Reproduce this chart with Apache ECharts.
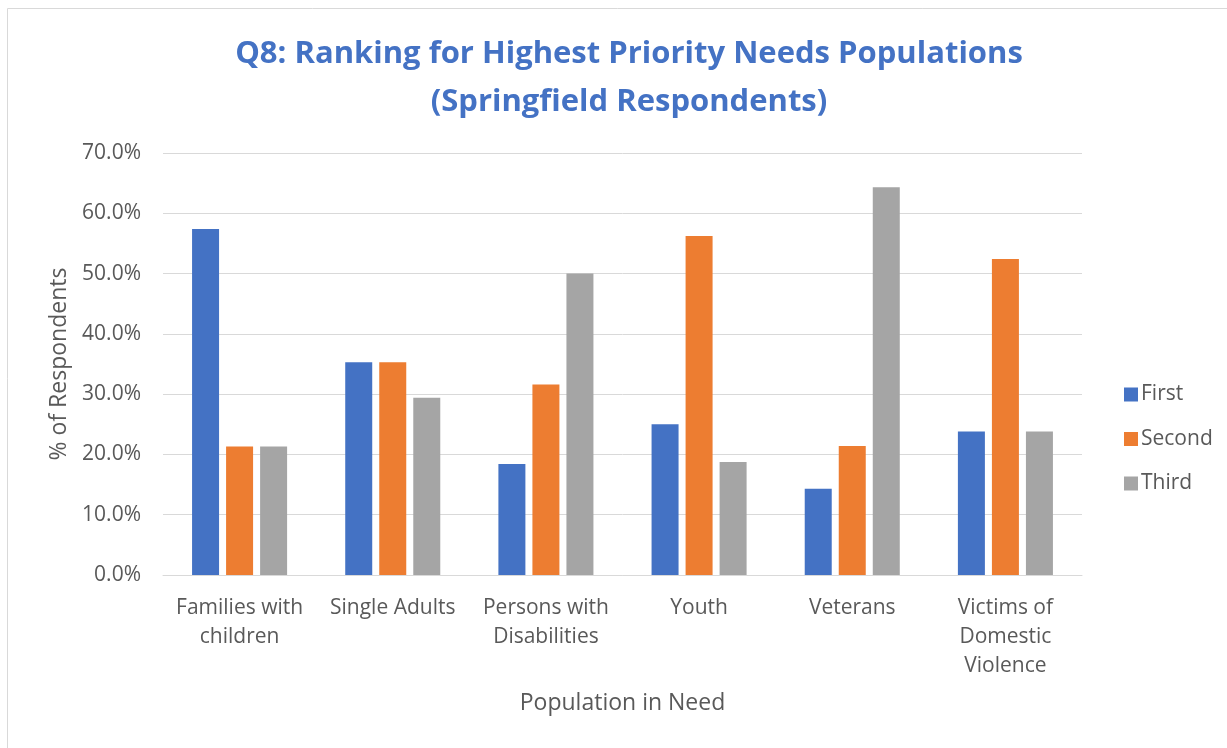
<!DOCTYPE html>
<html><head><meta charset="utf-8">
<script src="https://cdn.jsdelivr.net/npm/echarts@6/dist/echarts.min.js"></script>
<style>html,body{margin:0;padding:0;background:#fff}#c{width:1227px;height:748px}</style>
</head><body><div id="c"></div>
<script>
const categories = ['Families with\nchildren', 'Single Adults', 'Persons with\nDisabilities', 'Youth', 'Veterans', 'Victims of\nDomestic\nViolence'];
const first  = [57.4, 35.3, 18.4, 25.0, 14.3, 23.8];
const second = [21.3, 35.3, 31.6, 56.25, 21.4, 52.4];
const third  = [21.3, 29.4, 50.0, 18.75, 64.3, 23.8];
const seriesNames = ['First', 'Second', 'Third'];
const colors = ['#4472C4', '#ED7D31', '#A5A5A5'];
const FONT = 'Open Sans';
const chart = echarts.init(document.getElementById('c'));
chart.setOption({
  animation: false,
  color: colors,
  graphic: [{type:'rect', shape:{x:7.5,y:8.5,width:1240,height:760}, style:{fill:'none', stroke:'#d9d9d9', lineWidth:1}}],
  title: {
    text: 'Q8: Ranking for Highest Priority Needs Populations\n(Springfield Respondents)',
    left: 624, top: 25, textAlign: 'center',
    textStyle: {fontFamily: FONT, fontWeight: 'bold', fontSize: 31, color: '#4472C4', lineHeight: 48}
  },
  legend: {
    orient: 'vertical', left: 1119, top: 379, itemGap: 23.5,
    itemWidth: 14, itemHeight: 14, icon: 'rect',
    textStyle: {fontFamily: FONT, fontSize: 21, color: '#595959', padding:[0,0,0,-2]},
    data: seriesNames
  },
  grid: {left: 163, right: 145, top: 153, bottom: 173, containLabel: false},
  xAxis: {
    type: 'category', data: categories,
    axisTick: {show: false},
    axisLine: {lineStyle: {color: '#d9d9d9', width: 1}},
    axisLabel: {fontFamily: FONT, fontSize: 21, color: '#595959', lineHeight: 29, margin: 19, interval: 0},
    name: 'Population in Need', nameLocation: 'middle', nameGap: 117,
    nameTextStyle: {fontFamily: FONT, fontSize: 23, color: '#595959'}
  },
  yAxis: {
    type: 'value', min: 0, max: 70, interval: 10,
    axisLabel: {fontFamily: FONT, fontSize: 21, color: '#595959', margin: 22, formatter: v => v.toFixed(1) + '%'},
    splitLine: {lineStyle: {color: '#d9d9d9', width: 1}},
    axisLine: {show: false}, axisTick: {show: false},
    name: '% of Respondents', nameLocation: 'middle', nameGap: 91,
    nameTextStyle: {fontFamily: FONT, fontSize: 23, color: '#595959'}
  },
  series: [
    {name: seriesNames[0], type: 'bar', data: first, barWidth: 27, barGap: '26%'},
    {name: seriesNames[1], type: 'bar', data: second, barWidth: 27, barGap: '26%'},
    {name: seriesNames[2], type: 'bar', data: third, barWidth: 27, barGap: '26%'}
  ]
});
</script></body></html>
